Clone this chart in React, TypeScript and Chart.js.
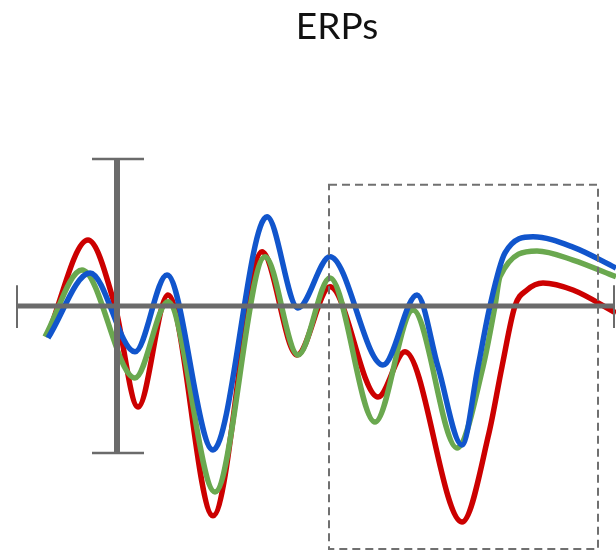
import React, { useEffect, useRef } from "react";
import { Chart, registerables } from "chart.js";

Chart.register(...registerables);

// Time in ms (stimulus onset at 0), amplitude in µV
const redTimes = [-70, -29, -2, 21, 51, 96, 145, 180, 213, 261, 288, 345, 372, 385, 398, 410, 426, 456, 499];
const redValues = [-1.05, 2.24, 0, -3.44, 0.37, -7.14, 1.84, -1.67, 0.65, -3.1, -1.56, -7.35, -4.32, -2.07, 0, 0.54, 0.78, 0.54, -0.24];

const greenTimes = [-72, -35, 18, 51, 98, 148, 181, 213, 258, 296, 340, 366, 378, 383, 420, 456, 499];
const greenValues = [-1.05, 1.22, -2.45, 0.14, -6.33, 1.67, -1.67, 0.95, -3.95, -0.14, -4.83, -2.07, 0, 1.0, 1.87, 1.56, 0.99];

const blueTimes = [-69, -27, 18, 50, 96, 150, 181, 213, 266, 300, 321, 345, 361, 373, 388, 416, 456, 499];
const blueValues = [-1.09, 1.12, -1.56, 1.05, -4.9, 3.03, -0.07, 1.67, -2.01, 0.37, -2.07, -4.73, -2.07, 0, 1.8, 2.35, 2.0, 1.29];

const seriesLabels = ["Blue", "Green", "Red"];
const seriesColors = ["#1155cc", "#6aa84f", "#cc0000"];

const titleText = "ERPs";

// Reference markers (data units)
const timeAxisRange = [-100, 497];
const ampBarRange = [-5, 5];
const ampBarCapRange = [-25, 27];
const boxTimeRange = [212, 481];
const boxAmpRange = [-8.27, 4.12];

const toPoints = (ts: number[], vs: number[]) => ts.map((t, i) => ({ x: t, y: vs[i] }));

const markerPlugin = {
  id: "erpMarkers",
  afterDatasetsDraw(chart: any) {
    const { ctx } = chart;
    const xs = chart.scales.x;
    const ys = chart.scales.y;
    const px = (v: number) => xs.getPixelForValue(v);
    const py = (v: number) => ys.getPixelForValue(v);
    ctx.save();
    ctx.strokeStyle = "#6b6b6b";
    ctx.lineCap = "butt";

    // horizontal time axis
    ctx.lineWidth = 5;
    ctx.beginPath();
    ctx.moveTo(px(timeAxisRange[0]), py(0));
    ctx.lineTo(px(timeAxisRange[1]), py(0));
    ctx.stroke();

    // end ticks
    ctx.lineWidth = 2;
    for (const t of timeAxisRange) {
      ctx.beginPath();
      ctx.moveTo(px(t), py(0.7));
      ctx.lineTo(px(t), py(-0.75));
      ctx.stroke();
    }

    // vertical amplitude bar
    ctx.lineWidth = 6;
    ctx.beginPath();
    ctx.moveTo(px(0), py(ampBarRange[1]));
    ctx.lineTo(px(0), py(ampBarRange[0]));
    ctx.stroke();

    // caps
    ctx.lineWidth = 2.5;
    for (const a of ampBarRange) {
      ctx.beginPath();
      ctx.moveTo(px(ampBarCapRange[0]), py(a));
      ctx.lineTo(px(ampBarCapRange[1]), py(a));
      ctx.stroke();
    }

    // dashed window box
    ctx.lineWidth = 2;
    ctx.strokeStyle = "#707070";
    ctx.setLineDash([8, 5]);
    ctx.strokeRect(
      px(boxTimeRange[0]),
      py(boxAmpRange[1]),
      px(boxTimeRange[1]) - px(boxTimeRange[0]),
      py(boxAmpRange[0]) - py(boxAmpRange[1])
    );
    ctx.restore();
  },
};

export default function App() {
  const canvasRef = useRef<HTMLCanvasElement | null>(null);

  useEffect(() => {
    if (!canvasRef.current) return;
    const series = [
      toPoints(blueTimes, blueValues),
      toPoints(greenTimes, greenValues),
      toPoints(redTimes, redValues),
    ];
    const chart = new Chart(canvasRef.current, {
      type: "line",
      data: {
        datasets: series.map((pts, i) => ({
          label: seriesLabels[i],
          data: pts,
          borderColor: seriesColors[i],
          backgroundColor: seriesColors[i],
          borderWidth: 5.5,
          pointRadius: 0,
          pointHoverRadius: 0,
          cubicInterpolationMode: "monotone" as const,
          clip: false as any,
          fill: false,
        })),
      },
      options: {
        animation: false,
        responsive: false,
        devicePixelRatio: 1,
        layout: { padding: { left: 58, right: 0, top: 0, bottom: 0 } },
        scales: {
          x: { type: "linear", min: -59, max: 499, display: false },
          y: { type: "linear", min: -8.37, max: 8.37, display: false },
        },
        plugins: {
          legend: { display: false },
          tooltip: { enabled: false },
          title: {
            display: true,
            text: titleText,
            color: "#111111",
            font: { family: "Lato", size: 37, weight: "normal" },
            padding: { top: 4.7, bottom: 10.7 },
          },
        },
      },
      plugins: [markerPlugin],
    });
    return () => chart.destroy();
  }, []);

  return (
    <div style={{ position: "fixed", left: 0, top: 0, width: 616, height: 552, background: "#fff" }}>
      <canvas ref={canvasRef} width={616} height={552} style={{ width: 616, height: 552 }} />
    </div>
  );
}
